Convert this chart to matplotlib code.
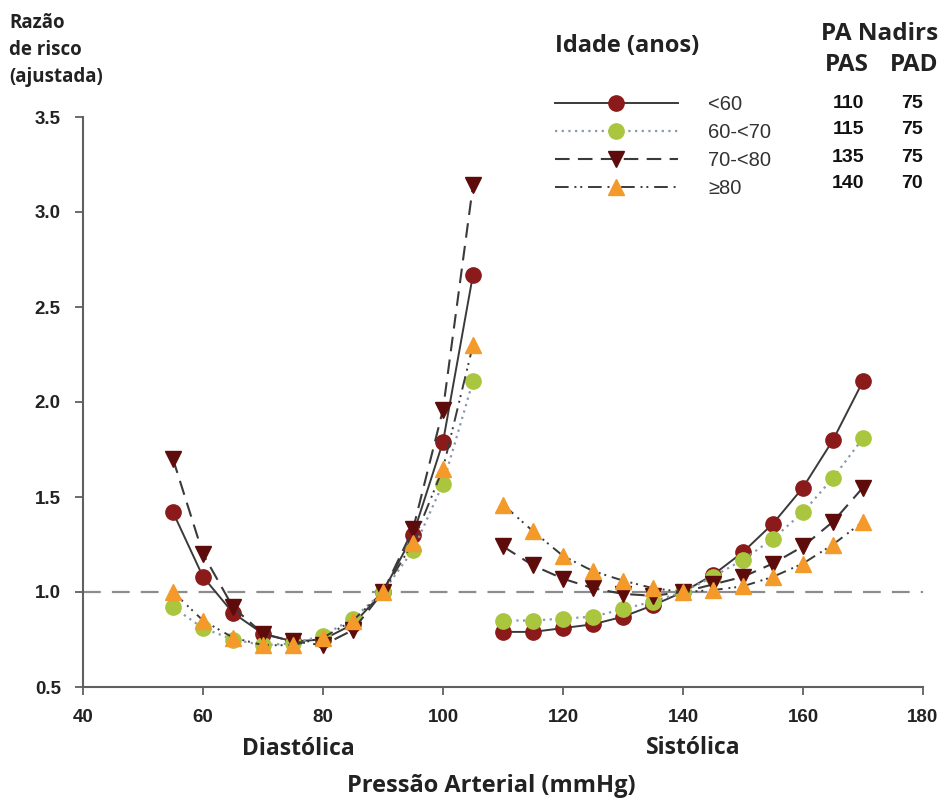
import matplotlib
matplotlib.use("Agg")
import matplotlib.pyplot as plt

# ---- data ----
dia_x = [55, 60, 65, 70, 75, 80, 85, 90, 95, 100, 105]
sys_x = [110, 115, 120, 125, 130, 135, 140, 145, 150, 155, 160, 165, 170]

groups = ["<60", "60-<70", "70-<80", "\u226580"]

dia_vals = {
    "<60":    [1.42, 1.08, 0.89, 0.78, 0.74, 0.75, 0.83, 1.00, 1.30, 1.79, 2.67],
    "60-<70": [0.92, 0.81, 0.75, 0.72, 0.73, 0.77, 0.86, 1.00, 1.22, 1.57, 2.11],
    "70-<80": [1.70, 1.20, 0.92, 0.78, 0.74, 0.72, 0.80, 1.00, 1.33, 1.96, 3.14],
    "\u226580": [1.00, 0.85, 0.76, 0.72, 0.72, 0.76, 0.85, 1.00, 1.26, 1.65, 2.30],
}
sys_vals = {
    "<60":    [0.79, 0.79, 0.81, 0.83, 0.87, 0.93, 1.00, 1.09, 1.21, 1.36, 1.55, 1.80, 2.11],
    "60-<70": [0.85, 0.85, 0.86, 0.87, 0.91, 0.95, 1.00, 1.08, 1.17, 1.28, 1.42, 1.60, 1.81],
    "70-<80": [1.24, 1.14, 1.07, 1.02, 0.99, 0.98, 1.00, 1.04, 1.08, 1.15, 1.24, 1.37, 1.55],
    "\u226580": [1.46, 1.32, 1.19, 1.11, 1.06, 1.02, 1.00, 1.01, 1.03, 1.08, 1.15, 1.25, 1.37],
}

nadir_pas = ["110", "115", "135", "140"]
nadir_pad = ["75", "75", "75", "70"]

xticks = [40, 60, 80, 100, 120, 140, 160, 180]
yticks = [0.5, 1.0, 1.5, 2.0, 2.5, 3.0, 3.5]

# ---- styles ----
styles = {
    "<60":    dict(marker="o", mfc="#8B1A1A", mec="#8B1A1A", ms=11, ls="-", color="#3a3a3a", lw=1.4),
    "60-<70": dict(marker="o", mfc="#A9C63E", mec="#A9C63E", ms=11, ls=(0, (1, 2)), color="#8a98a8", lw=1.6),
    "70-<80": dict(marker="v", mfc="#5E0B0B", mec="#5E0B0B", ms=11, ls=(0, (7, 4)), color="#3a3a3a", lw=1.5),
    "\u226580": dict(marker="^", mfc="#F39A2B", mec="#F39A2B", ms=11, ls=(0, (7, 3, 1, 2, 1, 3)), color="#3a3a3a", lw=1.4),
}

fig = plt.figure(figsize=(9.44, 8.01), dpi=100)
ax = fig.add_axes([83/944, 1-687/801, (923-83)/944, (687-117)/801])

ax.axhline(1.0, color="#8c8c8c", lw=1.6, ls=(0, (8, 5)), zorder=1)

handles = []
for g in groups:
    st = styles[g]
    ax.plot(dia_x, dia_vals[g], zorder=3, **st)
    h, = ax.plot(sys_x, sys_vals[g], zorder=3, **st)
    handles.append(h)

ax.set_xlim(40, 180)
ax.set_ylim(0.5, 3.5)
ax.set_xticks(xticks)
ax.set_yticks(yticks)
ax.set_yticklabels([f"{v:.1f}" for v in yticks])
for s in ["top", "right"]:
    ax.spines[s].set_visible(False)
for s in ["left", "bottom"]:
    ax.spines[s].set_color("#606060")
    ax.spines[s].set_linewidth(1.5)
ax.tick_params(direction="out", length=6, width=1.3, color="#606060",
               labelsize=13.5, pad=10)
for lab in ax.get_xticklabels() + ax.get_yticklabels():
    lab.set_fontweight("bold")
    lab.set_fontfamily("Liberation Sans")
    lab.set_color("#222222")

# legend
leg = ax.legend(handles, groups, loc="upper left", bbox_to_anchor=(555/944, 1-95/801),
                bbox_transform=fig.transFigure, frameon=False, numpoints=1,
                handlelength=6.1, handletextpad=1.5, labelspacing=0.45,
                prop=dict(family="Liberation Sans", size=14.5), borderpad=0, borderaxespad=0)
for t in leg.get_texts():
    t.set_color("#333333")

tf = dict(family="Open Sans", weight="bold", color="#222222")
fig.text(555/944, 1-46/801, "Idade (anos)", fontsize=17, ha="left", va="center", **tf)
fig.text(880/944, 1-34/801, "PA Nadirs", fontsize=17.5, ha="center", va="center", **tf)
fig.text(847/944, 1-65/801, "PAS", fontsize=17.5, ha="center", va="center", **tf)
fig.text(914/944, 1-65/801, "PAD", fontsize=17.5, ha="center", va="center", **tf)
rows_y = [103, 130, 157, 184]
for yv, a, b in zip(rows_y, nadir_pas, nadir_pad):
    fig.text(848/944, 1-yv/801, a, fontsize=14, ha="center", va="center",
             family="Liberation Sans", weight="bold", color="#111111")
    fig.text(912/944, 1-yv/801, b, fontsize=14, ha="center", va="center",
             family="Liberation Sans", weight="bold", color="#111111")

fig.text(9/944, 1-50/801, "Razão\nde risco\n(ajustada)", fontsize=13.5, ha="left", va="center",
         linespacing=1.45, **tf)
fig.text(298/944, 1-749/801, "Diastólica", fontsize=16.5, ha="center", va="center", **tf)
fig.text(693/944, 1-748/801, "Sistólica", fontsize=16.5, ha="center", va="center", **tf)
fig.text(491/944, 1-786/801, "Pressão Arterial (mmHg)", fontsize=17, ha="center", va="center", **tf)

fig.savefig("out.png", dpi=100, facecolor="white")
